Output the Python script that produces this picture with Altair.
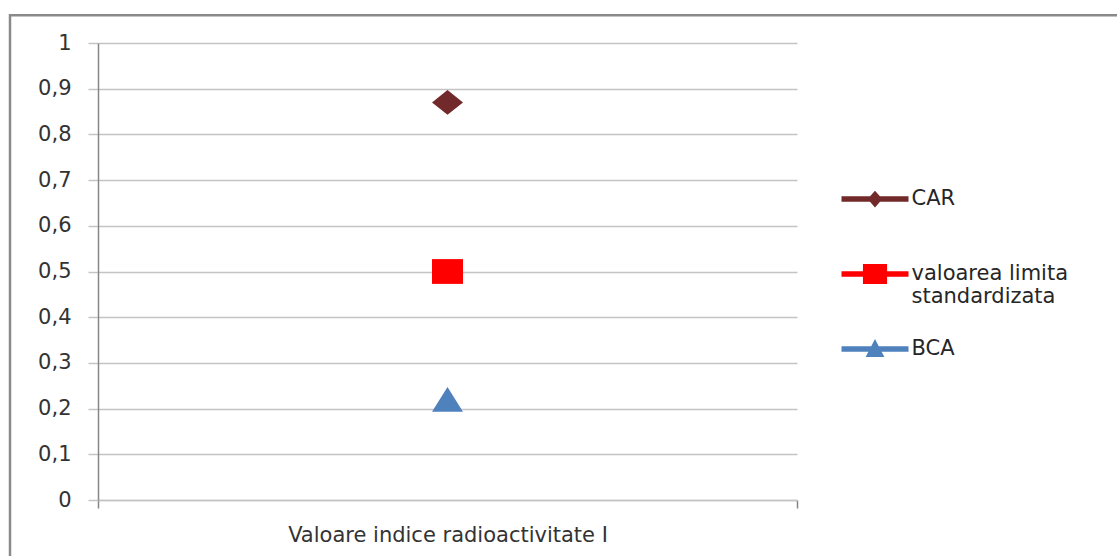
import altair as alt
import pandas as pd

categories = ["Valoare indice radioactivitate I"]
series = ["CAR", "valoarea limita standardizata", "BCA"]
values = [0.87, 0.50, 0.22]
colors = ["#71292A", "#FF0000", "#4F81BD"]
y_ticks = [0, 0.1, 0.2, 0.3, 0.4, 0.5, 0.6, 0.7, 0.8, 0.9, 1]

plot_shapes = [
    "M-1,0 L0,-0.8 L1,0 L0,0.8 Z",
    "M-1,-0.8 L1,-0.8 L1,0.8 L-1,0.8 Z",
    "M0,-0.8 L1,0.8 L-1,0.8 Z",
]
# legend glyph = line + marker; the zero-area first subpath only sets the glyph's bounds
LINE = "M0,-1 L0,1 Z M-1,-0.08 L1,-0.08 L1,0.08 L-1,0.08 Z "
legend_shapes = [
    LINE + "M-0.22,0 L0,-0.25 L0.22,0 L0,0.25 Z",
    LINE + "M-0.36,-0.3 L0.36,-0.3 L0.36,0.3 L-0.36,0.3 Z",
    LINE + "M0,-0.3 L0.28,0.24 L-0.28,0.24 Z",
]

df = pd.DataFrame({
    "category": [categories[0]] * len(series),
    "series": series,
    "value": values,
})

FONT = "DejaVu Sans"

x_enc = alt.X(
    "category:N",
    scale=alt.Scale(domain=categories, paddingInner=0, paddingOuter=0),
    axis=alt.Axis(
        title=None, labelAngle=0, labelFont=FONT, labelFontSize=21,
        labelColor="#333333", labelLimit=0, labelPadding=16,
        tickSize=8, tickColor="#868686", tickWidth=1.5, tickBand="extent",
        domainColor="#C4C4C4", domainWidth=1.5, grid=False,
    ),
)
y_enc = alt.Y(
    "value:Q",
    scale=alt.Scale(domain=[0, 1], nice=False, zero=True),
    axis=alt.Axis(
        title=None, values=y_ticks,
        labelExpr="replace(format(datum.value, '~g'), '.', ',')",
        labelFont=FONT, labelFontSize=21, labelColor="#333333", labelPadding=17,
        tickSize=10, tickColor="#C4C4C4", tickWidth=1.5,
        domainColor="#868686", domainWidth=1.5,
        grid=True, gridColor="#C4C4C4", gridWidth=1.5,
    ),
)

legend_kwargs = dict(
    title=None, orient="none", legendX=743.5, legendY=122.5, padding=0,
    symbolSize=4489, symbolStrokeWidth=0, symbolOpacity=1,
    labelFont=FONT, labelFontSize=21, labelColor="#262626",
    labelLimit=400, labelOffset=3, rowPadding=8,
    labelExpr="datum.label == 'valoarea limita standardizata' ? ['valoarea limita', 'standardizata'] : datum.label",
)

border = alt.Chart(pd.DataFrame({"b": [0]})).mark_rect(
    fillOpacity=0, stroke="#8A8A8A", strokeWidth=2.5
).encode(
    x=alt.value(-88), x2=alt.value(1060),
    y=alt.value(-27.7), y2=alt.value(560),
)

base = alt.Chart(df)
layers = [border]
for s, shp, col in zip(series, plot_shapes, colors):
    layers.append(
        base.transform_filter(alt.datum.series == s)
        .mark_point(filled=True, opacity=1, size=961, shape=shp, fill=col)
        .encode(x=x_enc, y=y_enc)
    )
# legend-only layer: zero-size points carrying the colour + shape legend
leg = base.mark_point(filled=True, opacity=1, size=0).encode(
    x=x_enc, y=y_enc,
    color=alt.Color("series:N", scale=alt.Scale(domain=series, range=colors),
                    legend=alt.Legend(**legend_kwargs)),
    shape=alt.Shape("series:N", scale=alt.Scale(domain=series, range=legend_shapes),
                    legend=alt.Legend(**legend_kwargs)),
)
layers.append(leg)

chart = alt.layer(*layers).properties(
    width=699, height=457,
    autosize=alt.AutoSizeParams(type="none"),
    padding={"left": 98, "top": 43, "right": 320, "bottom": 56},
    background="white",
).configure_view(stroke=None)

chart.save("out.html", embed_options={"renderer": "svg", "actions": False})
